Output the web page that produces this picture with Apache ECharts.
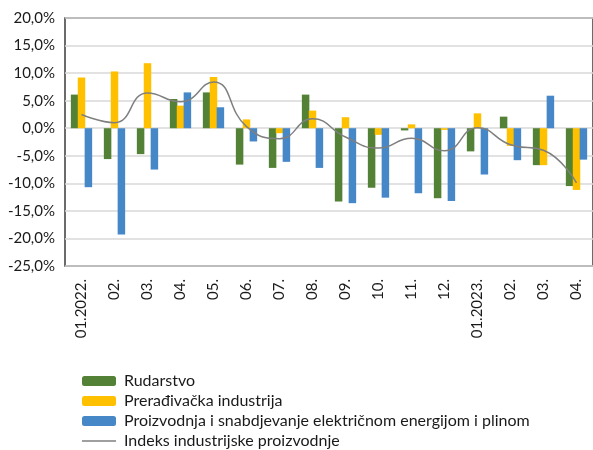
<!DOCTYPE html>
<html>
<head>
<meta charset="utf-8">
<script src="https://cdn.jsdelivr.net/npm/echarts@6/dist/echarts.min.js"></script>
<style>
  html, body { margin: 0; padding: 0; background: #fff; }
  #chart { width: 593px; height: 450px; }
</style>
</head>
<body>
<div id="chart"></div>
<script>
// mjeseci
const months = ["01.2022.", "02.", "03.", "04.", "05.", "06.", "07.", "08.",
  "09.", "10.", "11.", "12.", "01.2023.", "02.", "03.", "04."];

// godišnje stope, %
const rudarstvo = [6.1, -5.6, -4.7, 5.3, 6.5, -6.6, -7.2, 6.1,
  -13.3, -10.8, -0.4, -12.7, -4.2, 2.1, -6.7, -10.5];
const preradjivacka = [9.2, 10.3, 11.8, 4.1, 9.3, 1.6, -0.9, 3.2,
  2.0, -1.2, 0.7, -0.3, 2.7, -3.2, -6.7, -11.2];
const energija = [-10.7, -19.3, -7.5, 6.5, 3.8, -2.4, -6.1, -7.2,
  -13.6, -12.6, -11.8, -13.2, -8.4, -5.8, 5.9, -5.7];
const indeks = [2.5, 1.0, 6.4, 4.8, 8.4, 0.3, -1.9, 1.7,
  -1.6, -3.6, -1.8, -4.1, 0.1, -3.0, -4.0, -9.9];

const font = "Lato, 'Noto Sans', sans-serif";
const chart = echarts.init(document.getElementById("chart"));

const barBase = {
  type: "bar",
  barWidth: 7.5,
  barGap: "-8%",
};

chart.setOption({
  animation: false,
  textStyle: { fontFamily: font },
  grid: {
    left: 65,
    top: 18,
    bottom: 184,
    width: 533,
    show: true,
    borderColor: "#3b3b3b",
    borderWidth: 1.5,
  },
  legend: {
    orient: "vertical",
    left: 82,
    top: 373,
    padding: 0,
    itemWidth: 34,
    itemHeight: 10,
    itemGap: 4,
    textStyle: { fontSize: 16, color: "#1a1a1a", fontFamily: font, padding: [0, 0, 0, 3] },
    data: [
      { name: "Rudarstvo" },
      { name: "Prerađivačka industrija" },
      { name: "Proizvodnja i snabdjevanje električnom energijom i plinom" },
      { name: "Indeks industrijske proizvodnje", icon: "path://M0,0h34v1.5h-34z" },
    ],
  },
  xAxis: {
    type: "category",
    data: months,
    axisLine: { show: false },
    axisTick: { show: false },
    axisLabel: {
      rotate: 90,
      margin: 13,
      interval: 0,
      fontSize: 15,
      color: "#1a1a1a",
    },
  },
  yAxis: {
    type: "value",
    min: -25,
    max: 20,
    interval: 5,
    axisLine: { show: false },
    axisTick: { show: false },
    splitLine: { lineStyle: { color: "#d9d9d9", width: 1.5 } },
    axisLabel: {
      margin: 10,
      fontSize: 15,
      color: "#1a1a1a",
      formatter: (v) => v.toFixed(1).replace(".", ",") + "%",
    },
  },
  series: [
    { ...barBase, name: "Rudarstvo", data: rudarstvo, itemStyle: { color: "#538135" } },
    { ...barBase, name: "Prerađivačka industrija", data: preradjivacka, itemStyle: { color: "#FFC000" } },
    { ...barBase, name: "Proizvodnja i snabdjevanje električnom energijom i plinom", data: energija, itemStyle: { color: "#4587C7" } },
    {
      name: "Indeks industrijske proizvodnje",
      type: "line",
      data: indeks,
      smooth: 0.5,
      symbol: "none",
      lineStyle: { color: "#7f7f7f", width: 1.5 },
      itemStyle: { color: "#7f7f7f" },
      z: 5,
    },
  ],
});
</script>
</body>
</html>
